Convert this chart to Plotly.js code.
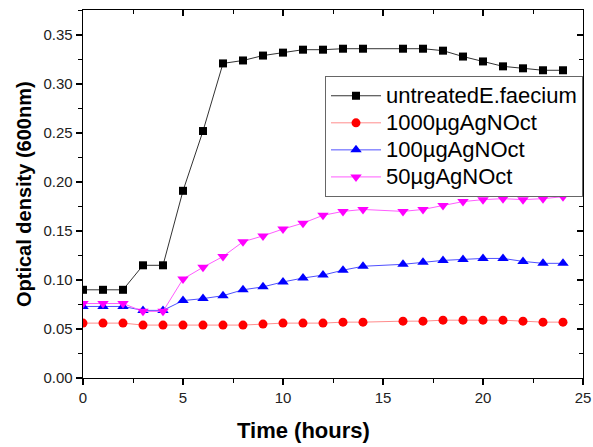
<!DOCTYPE html>
<html>
<head>
<meta charset="utf-8">
<script src="https://cdn.plot.ly/plotly-3.0.1.min.js"></script>
<style>
html,body{margin:0;padding:0;background:#fff}
#chart{width:593px;height:447px}
.legendtext{font-size:22px !important}
</style>
</head>
<body>
<div id="chart"></div>
<script>
var hours = [0,1,2,3,4,5,6,7,8,9,10,11,12,13,14,16,17,18,19,20,21,22,23,24];
var untreated = [0.090,0.090,0.090,0.115,0.115,0.191,0.252,0.321,0.324,0.329,0.332,0.335,0.335,0.336,0.336,0.336,0.336,0.334,0.328,0.323,0.318,0.316,0.314,0.314];
var ag1000 = [0.056,0.056,0.056,0.054,0.054,0.054,0.054,0.054,0.054,0.055,0.056,0.056,0.056,0.057,0.057,0.058,0.058,0.059,0.059,0.059,0.059,0.058,0.057,0.057];
var ag100 = [0.073,0.073,0.073,0.069,0.069,0.079,0.081,0.084,0.090,0.093,0.098,0.102,0.105,0.110,0.114,0.116,0.118,0.120,0.121,0.122,0.122,0.119,0.117,0.117];
var ag50 = [0.076,0.076,0.076,0.068,0.068,0.101,0.113,0.124,0.139,0.145,0.152,0.158,0.166,0.170,0.172,0.170,0.172,0.176,0.180,0.182,0.183,0.182,0.183,0.185];
var seriesNames = ['untreatedE.faecium','1000\u00b5gAgNOct','100\u00b5gAgNOct','50\u00b5gAgNOct'];
var yTickVals = [0,0.05,0.10,0.15,0.20,0.25,0.30,0.35];
var xTickVals = [0,5,10,15,20,25];

var FONT = 'Arial, "Liberation Sans", sans-serif';
function tr(y, name, sym, mcol, lcol, msize){
  return {x: hours, y: y, name: name, type:'scatter', mode:'lines+markers',
    line:{color:lcol, width:1}, marker:{symbol:sym, color:mcol, size:msize}};
}
var data = [
  tr(untreated, seriesNames[0], 'square', '#000000', '#333333', 8),
  tr(ag1000, seriesNames[1], 'circle', '#ff0000', '#ff8c8c', 9),
  tr(ag100, seriesNames[2], 'triangle-up', '#0000ff', '#5050ff', 10),
  tr(ag50, seriesNames[3], 'triangle-down', '#ff00ff', '#ff5cff', 10),
  {x:[0],y:[0],xaxis:'x2',yaxis:'y2',mode:'markers',marker:{opacity:0},showlegend:false,hoverinfo:'skip'}
];
var axCommon = {showgrid:false, zeroline:false, showline:true, linecolor:'#000', linewidth:1.3};
var layout = {
  width:593, height:447,
  margin:{l:83, r:10, t:10, b:69},
  paper_bgcolor:'#fff', plot_bgcolor:'#fff',
  font:{family:FONT, color:'#222'},
  showlegend:true,
  xaxis: Object.assign({}, axCommon, {range:[0,25], tickvals:xTickVals, ticktext:xTickVals.map(String),
    ticks:'outside', ticklen:6, tickwidth:1.2, tickcolor:'#000',
    minor:{dtick:2.5, tick0:0, ticks:'outside', ticklen:4, tickcolor:'#000', tickwidth:1},
    tickfont:{size:15, color:'#222'}}),
  yaxis: Object.assign({}, axCommon, {range:[0,0.3755], tickvals:yTickVals, ticktext:yTickVals.map(function(v){return v.toFixed(2);}),
    ticks:'outside', ticklen:6, tickwidth:1.2, tickcolor:'#000',
    minor:{dtick:0.025, tick0:0, ticks:'outside', ticklen:4, tickcolor:'#000', tickwidth:1},
    tickfont:{size:15, color:'#222'}}),
  xaxis2: Object.assign({}, axCommon, {range:[0,25], overlaying:'x', side:'top', tickvals:xTickVals, showticklabels:false,
    ticks:'inside', ticklen:6, tickwidth:1.2, tickcolor:'#000',
    minor:{dtick:2.5, tick0:0, ticks:'inside', ticklen:4, tickcolor:'#000', tickwidth:1}}),
  yaxis2: Object.assign({}, axCommon, {range:[0,0.3755], overlaying:'y', side:'right', tickvals:yTickVals, showticklabels:false,
    ticks:'inside', ticklen:6, tickwidth:1.2, tickcolor:'#000',
    minor:{dtick:0.025, tick0:0, ticks:'inside', ticklen:4, tickcolor:'#000', tickwidth:1}}),
  legend:{x:1, xanchor:'right', y:0.82, yanchor:'top', bgcolor:'#fff', bordercolor:'#666', borderwidth:1,
    font:{family:FONT, size:18.5, color:'#000'}, itemwidth:50, tracegroupgap:0},
  annotations:[
    {text:'<b>Time (hours)</b>', xref:'paper', yref:'paper', x:0.44, y:-0.144, xanchor:'center', yanchor:'middle',
     showarrow:false, font:{family:FONT, size:22, color:'#000'}},
    {text:'<b>Optical density (600nm)</b>', xref:'paper', yref:'paper', x:-0.118, y:0.5, xanchor:'center', yanchor:'middle',
     textangle:-90, showarrow:false, font:{family:FONT, size:20, color:'#000'}}
  ]
};
Plotly.newPlot('chart', data, layout, {displayModeBar:false, staticPlot:true});
</script>
</body>
</html>
